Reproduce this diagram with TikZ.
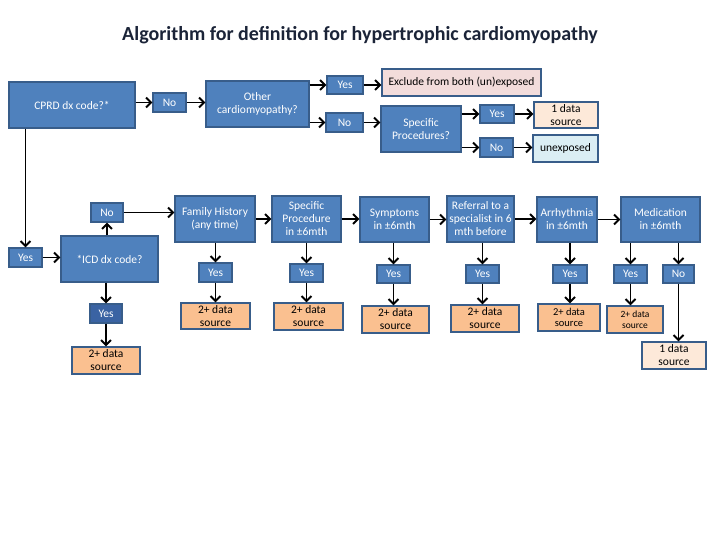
\documentclass[tikz,border=0pt]{standalone}
\usepackage{fontspec}
\setmainfont{Carlito}
\usetikzlibrary{positioning,arrows.meta,calc}
\definecolor{boxblue}{HTML}{4F81BD}
\definecolor{boxline}{HTML}{385D8A}
\definecolor{darkblue}{HTML}{3A63A3}
\definecolor{twofill}{HTML}{FAC090}
\definecolor{onefill}{HTML}{FDE9D9}
\definecolor{exclfill}{HTML}{F2DCDB}
\definecolor{unexfill}{HTML}{DBEEF4}
\definecolor{titlecol}{HTML}{1B2438}
\tikzset{
mybox/.style={
  draw=boxline,
  fill=boxblue,
  line width=1.3pt,
  text=white,
  align=center,
  inner sep=0pt,
  font=\fontsize{11.5}{13}\selectfont
  },
myarr/.style={
  -{Straight Barb[length=5pt,width=10pt]},
  line width=1.9pt
  },
mytwo/.style={mybox,fill=twofill,text=black},
myone/.style={mybox,fill=onefill,text=black}
}

\begin{document}
\begin{tikzpicture}[x=1pt,y=-1pt]
  \useasboundingbox (0,0) rectangle (720,540);
  \node[font=\fontsize{20}{24}\selectfont\bfseries,text=titlecol] (title) at (360,35) {Algorithm for definition for hypertrophic cardiomyopathy};

  % top branch
  \node[mybox,minimum width=126,minimum height=46] (cprd) at (72,105) {CPRD dx code?*};
  \node[mybox,minimum width=33,minimum height=19] (cprdno) at (169.5,102.5) {No};
  \node[mybox,minimum width=103,minimum height=46] (other) at (257.5,104) {Other\\cardiomyopathy?};
  \node[mybox,minimum width=36,minimum height=18] (otheryes) at (345,85) {Yes};
  \node[mybox,minimum width=37,minimum height=19] (otherno) at (344.5,122.5) {No};
  \node[mybox,fill=exclfill,text=black,minimum width=159,minimum height=27] (excl) at (461.5,82.5) {Exclude from both (un)exposed};
  \node[mybox,minimum width=80,minimum height=46] (spec) at (421,129) {Specific\\Procedures?};
  \node[mybox,minimum width=34,minimum height=18] (specyes) at (497,114) {Yes};
  \node[mybox,minimum width=33,minimum height=19] (specno) at (496.5,147.5) {No};
  \node[myone,minimum width=64,minimum height=26] (specone) at (566,115) {1 data\\source};
  \node[mybox,fill=unexfill,text=black,minimum width=65,minimum height=27] (unexp) at (565.5,148.5) {unexposed};

  \draw[myarr] (cprd.east |- cprdno.west) -- (cprdno.west);
  \draw[myarr] (cprdno.east) -- (cprdno.east -| other.west);
  \draw[myarr] (other.east |- otheryes.west) -- (otheryes.west);
  \draw[myarr] (other.east |- otherno.west) -- (otherno.west);
  \draw[myarr] (otheryes.east) -- (otheryes.east -| excl.west);
  \draw[myarr] (otherno.east) -- (otherno.east -| spec.west);
  \draw[myarr] (spec.east |- specyes.west) -- (specyes.west);
  \draw[myarr] (spec.east |- specno.west) -- (specno.west);
  \draw[myarr] (specyes.east) -- (specyes.east -| specone.west);
  \draw[myarr] (specno.east) -- (specno.east -| unexp.west);

  % ICD branch
  \node[mybox,minimum width=33,minimum height=19] (cprdyes) at (25.5,257.5) {Yes};
  \node[mybox,minimum width=97,minimum height=46] (icd) at (109.5,259) {*ICD dx code?};
  \node[mybox,minimum width=32,minimum height=19] (icdno) at (107,212.5) {No};
  \node[mybox,fill=darkblue,minimum width=32,minimum height=19] (icdyes) at (106,313.5) {Yes};
  \node[mytwo,minimum width=68,minimum height=27] (icdtwo) at (106,360.5) {2+ data\\source};

  \draw[myarr] (cprd.south -| cprdyes.north) -- (cprdyes.north);
  \draw[myarr] (cprdyes.east) -- (cprdyes.east -| icd.west);
  \draw[myarr] (icdno.south |- icd.north) -- (icdno.south);
  \draw[myarr] (icd.south -| icdyes.north) -- (icdyes.north);
  \draw[myarr] (icdyes.south) -- (icdyes.south |- icdtwo.north);

  % row of checks
  \node[mybox,minimum width=80,minimum height=46] (fam) at (215,219) {Family History\\(any time)};
  \node[mybox,minimum width=69,minimum height=46] (proc) at (306.5,219) {Specific\\Procedure\\in ±6mth};
  \node[mybox,minimum width=69,minimum height=45] (sym) at (394.5,219.5) {Symptoms\\in ±6mth};
  \node[mybox,minimum width=67,minimum height=46] (ref) at (480.5,219) {Referral to a\\specialist in 6\\mth before};
  \node[mybox,minimum width=60,minimum height=45] (arr) at (567,219.5) {Arrhythmia\\in ±6mth};
  \node[mybox,minimum width=79,minimum height=45] (med) at (660.5,219.5) {Medication\\in ±6mth};

  \node[mybox,minimum width=33,minimum height=19] (famyes) at (215.5,272.5) {Yes};
  \node[mybox,minimum width=33,minimum height=18] (procyes) at (306.5,273) {Yes};
  \node[mybox,minimum width=33,minimum height=18] (symyes) at (393.5,274) {Yes};
  \node[mybox,minimum width=33,minimum height=18] (refyes) at (482.5,274) {Yes};
  \node[mybox,minimum width=34,minimum height=18] (arryes) at (570,274) {Yes};
  \node[mybox,minimum width=33,minimum height=18] (medyes) at (630.5,274) {Yes};
  \node[mybox,minimum width=31,minimum height=18] (medno) at (678.5,274) {No};

  \node[mytwo,minimum width=69,minimum height=26] (famtwo) at (215.5,316) {2+ data\\source};
  \node[mytwo,minimum width=69,minimum height=27] (proctwo) at (308.5,316.5) {2+ data\\source};
  \node[mytwo,minimum width=67,minimum height=27] (symtwo) at (395.5,319.5) {2+ data\\source};
  \node[mytwo,minimum width=68,minimum height=27] (reftwo) at (485,318.5) {2+ data\\source};
  \node[mytwo,minimum width=62,minimum height=27,font=\fontsize{10.5}{11.5}\selectfont] (arrtwo) at (569,317.5) {2+ data\\source};
  \node[mytwo,minimum width=56,minimum height=27,font=\fontsize{9.5}{11}\selectfont] (medtwo) at (635,319.5) {2+ data\\source};
  \node[myone,minimum width=64,minimum height=27] (medone) at (674,355.5) {1 data\\source};

  \draw[myarr] (icdno.east) -- (icdno.east -| fam.west);
  \draw[myarr] (fam.east) -- (proc.west);
  \draw[myarr] (proc.east) -- (proc.east -| sym.west);
  \draw[myarr] (sym.east) -- (sym.east -| ref.west);
  \draw[myarr] (ref.east) -- (ref.east -| arr.west);
  \draw[myarr] (arr.east) -- (arr.east -| med.west);

  \draw[myarr] (fam.south -| famyes.north) -- (famyes.north);
  \draw[myarr] (proc.south -| procyes.north) -- (procyes.north);
  \draw[myarr] (sym.south -| symyes.north) -- (symyes.north);
  \draw[myarr] (ref.south -| refyes.north) -- (refyes.north);
  \draw[myarr] (arr.south -| arryes.north) -- (arryes.north);
  \draw[myarr] (med.south -| medyes.north) -- (medyes.north);
  \draw[myarr] (med.south -| medno.north) -- (medno.north);

  \draw[myarr] (famyes.south) -- (famyes.south |- famtwo.north);
  \draw[myarr] (procyes.south) -- (procyes.south |- proctwo.north);
  \draw[myarr] (symyes.south) -- (symyes.south |- symtwo.north);
  \draw[myarr] (refyes.south) -- (refyes.south |- reftwo.north);
  \draw[myarr] (arryes.south) -- (arryes.south |- arrtwo.north);
  \draw[myarr] (medyes.south) -- (medyes.south |- medtwo.north);
  \draw[myarr] (medno.south) -- (medno.south |- medone.north);

\end{tikzpicture}
\end{document}
